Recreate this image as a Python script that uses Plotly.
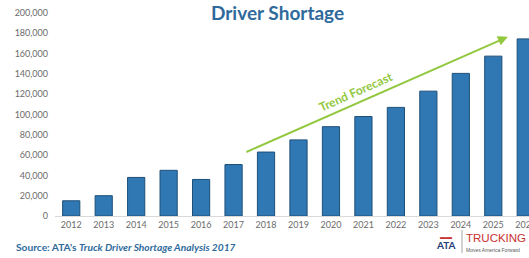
import plotly.graph_objects as go

years = ["2012", "2013", "2014", "2015", "2016", "2017", "2018", "2019",
         "2020", "2021", "2022", "2023", "2024", "2025", "2026"]
shortage = [15000, 20000, 38000, 45000, 36000, 50700, 63000, 75000,
            88000, 98000, 107000, 123000, 140500, 157500, 174500]
y_ticks = [0, 20000, 40000, 60000, 80000, 100000, 120000, 140000,
           160000, 180000, 200000]

FONT = "Lato"
L, T, B = 55, 13, 42
PW, PH = 529 - L, 258 - T - B


def px(x):
    return (x - L) / PW


def py(y):
    return (258 - B - y) / PH


fig = go.Figure()
fig.add_trace(go.Bar(
    x=years, y=shortage,
    marker=dict(color="#2F78B4", line=dict(color="#1D4F78", width=1)),
    width=0.53, hoverinfo="skip",
))

fig.update_layout(
    width=529, height=258,
    margin=dict(l=L, r=0, t=T, b=B, pad=0, autoexpand=False),
    plot_bgcolor="white", paper_bgcolor="white",
    showlegend=False,
    font=dict(family=FONT, color="#595959", size=9),
    xaxis=dict(
        type="category", range=[-0.5, 14.1], automargin=False,
        showgrid=False, showline=True, linecolor="#D9D9D9", linewidth=1,
        ticks="", tickfont=dict(size=9, color="#6B6B6B"),
    ),
    yaxis=dict(
        range=[0, 200000], tickvals=y_ticks, automargin=False,
        ticktext=[f"{v:,}" for v in y_ticks],
        showgrid=False, zeroline=False, showline=False,
        ticks="", ticklabelstandoff=6,
        tickfont=dict(size=9, color="#6B6B6B"),
    ),
)

# Title
fig.add_annotation(
    xref="paper", yref="paper", x=px(277), y=py(12.5),
    text="<b>Driver Shortage</b>", showarrow=False,
    font=dict(family=FONT, size=19, color="#2E6A9C"),
    xanchor="center", yanchor="middle", borderpad=0,
)

# Trend arrow
fig.add_annotation(
    x=13.45, y=176600, ax=5.35, ay=62400,
    xref="x", yref="y", axref="x", ayref="y",
    text="", showarrow=True, arrowhead=2, arrowsize=1, arrowwidth=2,
    arrowcolor="#92C83E",
)
fig.add_annotation(
    x=8.77, y=123000, xref="x", yref="y",
    text="<b>Trend Forecast</b>", showarrow=False, textangle=-24,
    font=dict(family=FONT, size=12, color="#92C83E"),
)

# Source
fig.add_annotation(
    xref="paper", yref="paper", x=px(15), y=py(247),
    text="<b>Source: ATA's <i>Truck Driver Shortage Analysis 2017</i></b>",
    showarrow=False, xanchor="left", yanchor="middle", borderpad=0,
    font=dict(family=FONT, size=10.2, color="#2E6A9C"),
)

# Logo approximation
fig.add_annotation(
    xref="paper", yref="paper", x=px(446), y=py(245),
    text="<b>ATA</b>", showarrow=False, xanchor="center", yanchor="middle",
    font=dict(family=FONT, size=10, color="#1F3E7A"),
)
fig.add_annotation(
    xref="paper", yref="paper", x=px(446), y=py(236),
    text="<b>▬▬</b>", showarrow=False, xanchor="center", yanchor="middle",
    font=dict(family=FONT, size=6, color="#C8312F"),
)
fig.add_shape(
    type="line", xref="paper", yref="paper",
    x0=px(462), x1=px(462), y0=py(230), y1=py(253),
    line=dict(color="#A6A6A6", width=1),
)
fig.add_annotation(
    xref="paper", yref="paper", x=px(465), y=py(238),
    text="TRUCKING", showarrow=False, xanchor="left", yanchor="middle",
    borderpad=0,
    font=dict(family="Liberation Sans", size=11.5, color="#C8312F"),
)
fig.add_annotation(
    xref="paper", yref="paper", x=px(465), y=py(250),
    text="Moves America Forward", showarrow=False, xanchor="left",
    yanchor="middle", borderpad=0,
    font=dict(family="Liberation Sans", size=5, color="#595959"),
)

fig.write_html(
    "out.html",
    config={"displayModeBar": False},
    post_script="document.body.style.margin='0';document.body.style.overflow='hidden';",
)
